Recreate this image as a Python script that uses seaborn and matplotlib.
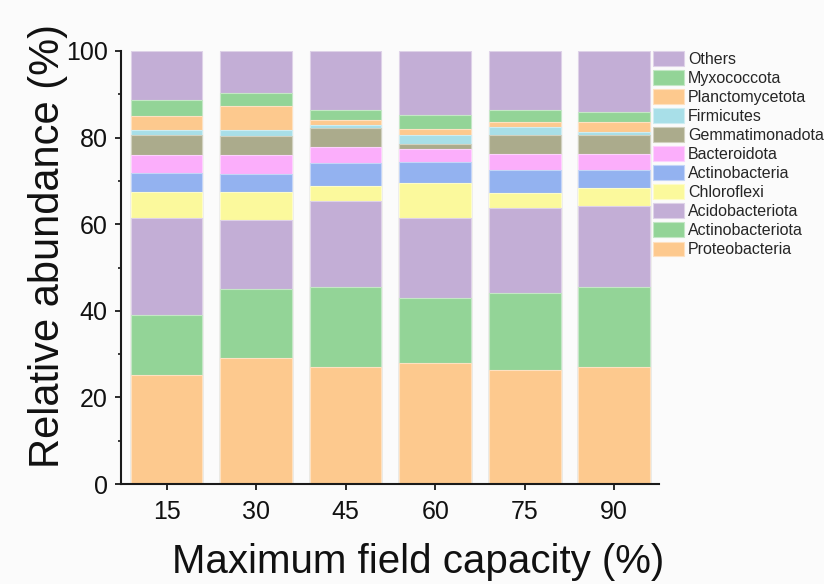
import matplotlib
matplotlib.use("Agg")
import matplotlib.pyplot as plt
from matplotlib.patches import Patch
from matplotlib.ticker import MultipleLocator
import matplotlib.colors as mcolors
import numpy as np
import pandas as pd
import seaborn as sns

# Maximum field capacity treatments (%)
capacity = ["15", "30", "45", "60", "75", "90"]

# Relative abundance (%) of each phylum, bottom of the stack first
proteobacteria = [25.1, 29.2, 27.1, 27.9, 26.3, 27.1]
actinobacteriota = [13.9, 15.8, 18.5, 15.1, 17.7, 18.5]
acidobacteriota = [22.5, 15.9, 19.7, 18.5, 19.8, 18.7]
chloroflexi = [5.9, 6.6, 3.5, 7.9, 3.4, 4.1]
actinobacteria = [4.4, 4.0, 5.3, 5.0, 5.3, 4.1]
bacteroidota = [4.1, 4.4, 3.7, 3.0, 3.7, 3.7]
gemmatimonadota = [4.7, 4.5, 4.4, 1.2, 4.5, 4.4]
firmicutes = [1.1, 1.4, 0.6, 2.0, 1.7, 0.6]
planctomycetota = [3.4, 5.5, 1.3, 1.5, 1.1, 2.3]
myxococcota = [3.5, 3.0, 2.3, 3.2, 2.9, 2.4]
others = [11.4, 9.7, 13.6, 14.7, 13.6, 14.1]

taxa = ["Proteobacteria", "Actinobacteriota", "Acidobacteriota", "Chloroflexi",
        "Actinobacteria", "Bacteroidota", "Gemmatimonadota", "Firmicutes",
        "Planctomycetota", "Myxococcota", "Others"]
series = [proteobacteria, actinobacteriota, acidobacteriota, chloroflexi,
          actinobacteria, bacteroidota, gemmatimonadota, firmicutes,
          planctomycetota, myxococcota, others]

purple = "#c3aed6"
green = "#93d497"
orange = "#fdc98e"
palette = {
    "Proteobacteria": orange,
    "Actinobacteriota": green,
    "Acidobacteriota": purple,
    "Chloroflexi": "#fbf99c",
    "Actinobacteria": "#93b2f0",
    "Bacteroidota": "#fbaefb",
    "Gemmatimonadota": "#abab8c",
    "Firmicutes": "#a8dfe8",
    "Planctomycetota": orange,
    "Myxococcota": green,
    "Others": purple,
}


def lighter(c, f=0.45):
    r, g, b = mcolors.to_rgb(c)
    return (r + (1 - r) * f, g + (1 - g) * f, b + (1 - b) * f)


sns.set_style("ticks")
plt.rcParams["font.family"] = ["Liberation Sans", "DejaVu Sans"]

bg = "#fbfbfb"
fig = plt.figure(figsize=(8.24, 5.84), dpi=100, facecolor=bg)
ax = fig.add_axes([121 / 824, 1 - 484 / 584, 538 / 824, 433 / 584])
ax.set_facecolor(bg)

abund = pd.DataFrame(dict(zip(taxa, series)), index=capacity)
tops = abund.cumsum(axis=1)

# stacked bars: draw cumulative heights from the top layer down
for taxon in reversed(taxa):
    sns.barplot(x=capacity, y=tops[taxon].values, order=capacity,
                color=palette[taxon], saturation=1, width=0.8,
                edgecolor=lighter(palette[taxon]), linewidth=0.8, ax=ax)

ax.set_xlim(-0.51, 5.5)
ax.set_ylim(0, 100)
ax.set_yticks(np.arange(0, 101, 20))
ax.yaxis.set_minor_locator(MultipleLocator(10))
sns.despine(ax=ax)
for side in ("left", "bottom"):
    ax.spines[side].set_linewidth(1.5)
    ax.spines[side].set_color("#1a1a1a")
ax.tick_params(axis="both", which="major", direction="out", length=4.5,
               width=1.3, color="#1a1a1a", labelsize=18, labelcolor="#111111")
ax.tick_params(axis="y", which="minor", direction="out", length=2.2,
               width=1.2, color="#1a1a1a")
ax.tick_params(axis="x", pad=7)
ax.tick_params(axis="y", pad=5)
ax.set_xlabel("")
ax.set_ylabel("")

fig.text(59 / 824, 1 - 245.5 / 584, "Relative abundance (%)", rotation=90,
         rotation_mode="anchor", ha="center", va="baseline", fontsize=30,
         color="#111111")
fig.text(418 / 824, 1 - 573 / 584, "Maximum field capacity (%)",
         ha="center", va="baseline", fontsize=29, color="#111111")

handles = [Patch(facecolor=palette[t], edgecolor=lighter(palette[t]), linewidth=0.8)
           for t in reversed(taxa)]
fig.legend(handles, list(reversed(taxa)), loc="upper left",
           bbox_to_anchor=(653 / 824, 1 - 51 / 584), frameon=False,
           fontsize=11.5, handlelength=1.95, handleheight=1.05,
           handletextpad=0.25, labelspacing=0.2, borderpad=0,
           borderaxespad=0)

fig.savefig("out.png", dpi=100, facecolor=bg)
